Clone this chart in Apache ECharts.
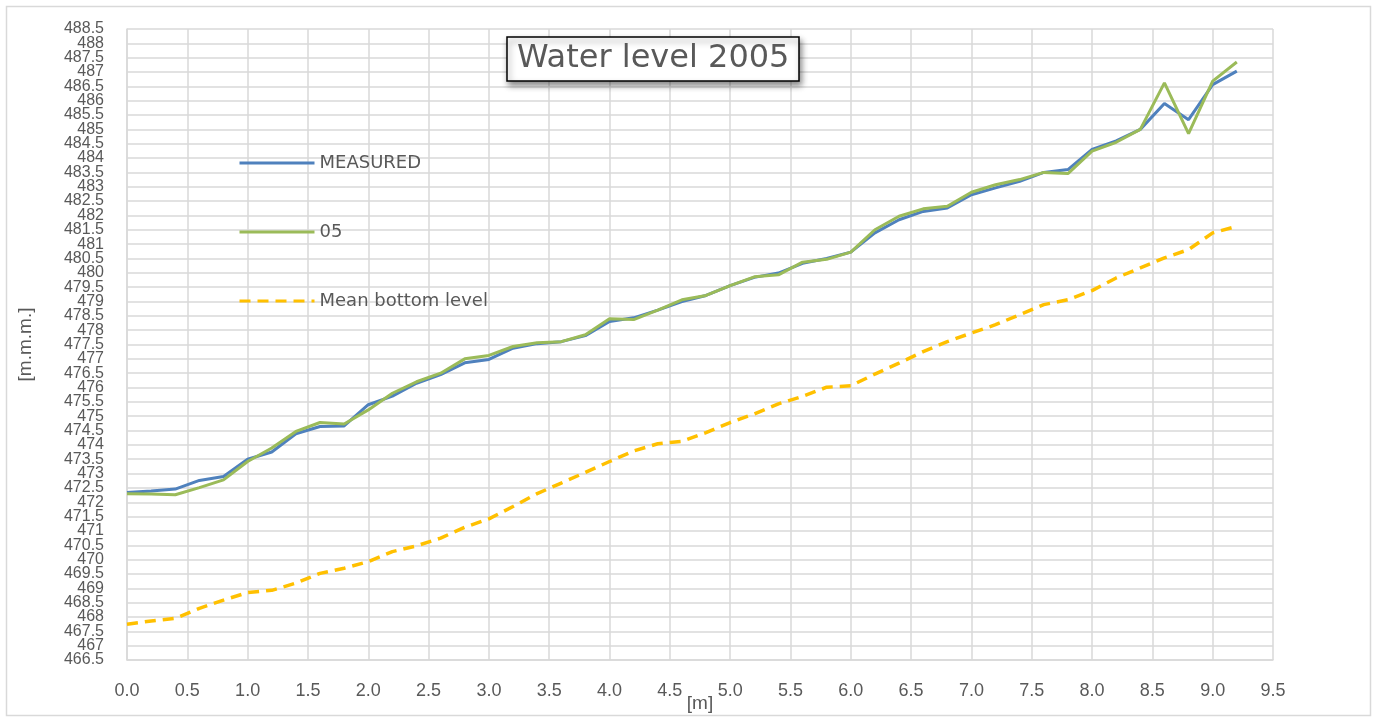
<!DOCTYPE html>
<html>
<head>
<meta charset="utf-8">
<script src="https://cdn.jsdelivr.net/npm/echarts@6/dist/echarts.min.js"></script>
<style>
  html, body { margin: 0; padding: 0; background: #fff; }
  #main { width: 1373px; height: 717px; }
</style>
</head>
<body>
<div id="main"></div>
<script>
// distance along the section [m]
var distance = [0.0, 0.2, 0.4, 0.6, 0.8, 1.0, 1.2, 1.4, 1.6, 1.8,
  2.0, 2.2, 2.4, 2.6, 2.8, 3.0, 3.2, 3.4, 3.6, 3.8,
  4.0, 4.2, 4.4, 4.6, 4.8, 5.0, 5.2, 5.4, 5.6, 5.8,
  6.0, 6.2, 6.4, 6.6, 6.8, 7.0, 7.2, 7.4, 7.6, 7.8,
  8.0, 8.2, 8.4, 8.6, 8.8, 9.0, 9.2];

// water level, measured
var measured = [472.34, 472.39, 472.46, 472.76, 472.9, 473.5, 473.75, 474.39, 474.64, 474.66,
  475.4, 475.7, 476.15, 476.45, 476.86, 476.98, 477.37, 477.53, 477.6, 477.81,
  478.3, 478.43, 478.7, 479.0, 479.21, 479.55, 479.84, 479.99, 480.33, 480.5,
  480.72, 481.39, 481.85, 482.14, 482.26, 482.72, 482.96, 483.19, 483.5, 483.6,
  484.3, 484.6, 485.0, 485.9, 485.34, 486.56, 487.03];

// water level, model "05"
var model05 = [472.3, 472.29, 472.26, 472.51, 472.78, 473.42, 473.89, 474.47, 474.78, 474.73,
  475.22, 475.8, 476.2, 476.5, 477.0, 477.12, 477.43, 477.56, 477.6, 477.84,
  478.4, 478.37, 478.7, 479.06, 479.21, 479.55, 479.86, 479.93, 480.37, 480.47,
  480.72, 481.5, 481.97, 482.23, 482.32, 482.81, 483.07, 483.25, 483.5, 483.46,
  484.24, 484.55, 485.0, 486.62, 484.85, 486.68, 487.35];

// mean bottom level
var bottom = [467.75, 467.86, 467.95, 468.3, 468.59, 468.85, 468.93, 469.18, 469.52, 469.7,
  469.93, 470.28, 470.48, 470.75, 471.13, 471.42, 471.85, 472.3, 472.67, 473.04,
  473.42, 473.79, 474.04, 474.12, 474.43, 474.78, 475.08, 475.43, 475.69, 476.01,
  476.06, 476.47, 476.85, 477.25, 477.6, 477.9, 478.19, 478.54, 478.89, 479.06,
  479.38, 479.82, 480.17, 480.52, 480.81, 481.39, 481.62];

// y range [m.m.m.]
var yMin = 466.5, yMax = 488.5;

function pairs(ys) {
  return distance.map(function (x, i) { return [x, ys[i]]; });
}

var labelColor = '#595959';
var gridColor = '#d9d9d9';
var yLabel = {
  margin: 23,
  fontFamily: 'Liberation Sans',
  fontSize: 16,
  color: labelColor
};

var myChart = echarts.init(document.getElementById('main'));

var option = {
  backgroundColor: '#fff',
  animation: false,
  title: {
    text: 'Water level 2005',
    left: 507,
    top: 37,
    padding: [6, 10, 6, 10],
    borderColor: '#000',
    borderWidth: 1.5,
    backgroundColor: '#fff',
    shadowColor: 'rgba(0,0,0,0.45)',
    shadowBlur: 6,
    shadowOffsetX: 2,
    shadowOffsetY: 4,
    textStyle: {
      fontFamily: 'DejaVu Sans',
      fontSize: 32,
      fontWeight: 'normal',
      color: labelColor
    }
  },
  legend: {
    orient: 'vertical',
    left: 233,
    top: 149,
    itemWidth: 75,
    itemHeight: 14,
    itemGap: 51,
    itemStyle: { color: 'transparent', borderWidth: 0, opacity: 0 },
    lineStyle: { width: 3 },
    textStyle: { fontFamily: 'DejaVu Sans', fontSize: 18, color: labelColor },
    data: ['MEASURED', '05', 'Mean bottom level']
  },
  grid: {
    left: 127,
    right: 100,
    top: 29,
    bottom: 57,
    containLabel: false,
    outerBoundsMode: 'none'
  },
  xAxis: {
    type: 'value',
    min: 0,
    max: 9.5,
    interval: 0.5,
    name: '[m]',
    nameLocation: 'middle',
    nameGap: 34,
    nameMoveOverlap: false,
    nameTextStyle: { fontFamily: 'Liberation Sans', fontSize: 19, color: labelColor },
    axisLine: { show: true, lineStyle: { color: gridColor, width: 1.5 } },
    axisTick: { show: false },
    axisLabel: {
      margin: 22,
      showMinLabel: true,
      showMaxLabel: true,
      fontFamily: 'Liberation Sans',
      fontSize: 18,
      color: labelColor,
      formatter: function (v) { return v.toFixed(1); }
    },
    splitLine: { show: true, lineStyle: { color: gridColor, width: 1.5 } }
  },
  yAxis: [
    {
      type: 'value',
      min: yMin,
      max: yMax,
      interval: 0.5,
      name: '[m.m.m.]',
      nameLocation: 'middle',
      nameGap: 92,
      nameRotate: 90,
      nameMoveOverlap: false,
      nameTextStyle: { fontFamily: 'Liberation Sans', fontSize: 19, color: labelColor },
      axisLine: { show: true, lineStyle: { color: gridColor, width: 1.5 } },
      axisTick: { show: false },
      axisLabel: Object.assign({ showMinLabel: false, showMaxLabel: false }, yLabel),
      splitLine: { show: true, lineStyle: { color: gridColor, width: 1.5 } }
    },
    {
      // carries only the two end labels so that they don't hide their neighbours
      type: 'value',
      position: 'left',
      min: yMin,
      max: yMax,
      interval: yMax - yMin,
      axisLine: { show: false },
      axisTick: { show: false },
      splitLine: { show: false },
      axisLabel: Object.assign({ showMinLabel: true, showMaxLabel: true }, yLabel)
    }
  ],
  series: [
    {
      name: 'MEASURED',
      type: 'line',
      symbol: 'none',
      data: pairs(measured),
      lineStyle: { color: '#4f81bd', width: 3 },
      itemStyle: { color: '#4f81bd' },
      z: 3
    },
    {
      name: '05',
      type: 'line',
      symbol: 'none',
      data: pairs(model05),
      lineStyle: { color: '#9bbb59', width: 3 },
      itemStyle: { color: '#9bbb59' },
      z: 4
    },
    {
      name: 'Mean bottom level',
      type: 'line',
      symbol: 'none',
      data: pairs(bottom),
      lineStyle: { color: '#ffc000', width: 3.5, type: [11, 7] },
      itemStyle: { color: '#ffc000' },
      z: 2
    }
  ],
  graphic: [
    {
      type: 'rect',
      left: 4,
      top: 4,
      shape: { width: 1364, height: 709 },
      style: { fill: 'none', stroke: '#d9d9d9', lineWidth: 1.5 },
      silent: true
    }
  ]
};

myChart.setOption(option);
</script>
</body>
</html>
